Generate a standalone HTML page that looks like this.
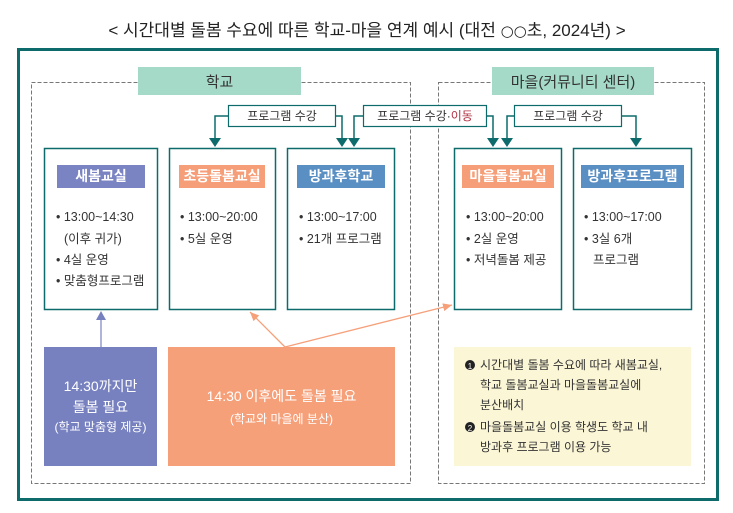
<!DOCTYPE html>
<html><head><meta charset="utf-8"><style>
html,body{margin:0;padding:0;background:#fff;width:733px;height:513px;overflow:hidden}
svg text{font-family:"Liberation Sans","Noto Sans CJK KR",sans-serif}
</style></head><body>
<svg width="733" height="513" viewBox="0 0 733 513" xmlns="http://www.w3.org/2000/svg">
<defs>
<marker id="po" markerWidth="10" markerHeight="10" refX="9" refY="4" orient="auto" markerUnits="userSpaceOnUse"><path d="M0,0 L9,4 L0,8 Z" fill="#f6a07a"/></marker>
</defs>
<text x="367" y="36" font-size="17" text-anchor="middle" fill="#222">&lt; 시간대별 돌봄 수요에 따른 학교-마을 연계 예시 (대전 <tspan font-family="DejaVu Sans" font-size="15">○○</tspan>초, 2024년) &gt;</text>
<rect x="18.5" y="49.5" width="699" height="450" fill="none" stroke="#0d6b6b" stroke-width="3"/>
<rect x="31.5" y="82.5" width="379" height="401" fill="none" stroke="#777" stroke-dasharray="4,2"/>
<rect x="438.5" y="82.5" width="266" height="401" fill="none" stroke="#777" stroke-dasharray="4,2"/>
<rect x="138" y="67" width="163" height="28" fill="#a6dac8"/>
<text x="219.5" y="87" font-size="15" text-anchor="middle" fill="#333">학교</text>
<rect x="492" y="67" width="162" height="28" fill="#a6dac8"/>
<text x="573" y="87" font-size="15" text-anchor="middle" fill="#333">마을(커뮤니티 센터)</text>
<g fill="#fff" stroke="#0d6b6b" stroke-width="1.5">
<rect x="44.5" y="148.5" width="113" height="161"/>
<rect x="169.5" y="148.5" width="106" height="161"/>
<rect x="287.5" y="148.5" width="107" height="161"/>
<rect x="454.5" y="148.5" width="107" height="161"/>
<rect x="573.5" y="148.5" width="118" height="161"/>
</g>
<g fill="none" stroke="#0d6b6b" stroke-width="1.5">
<polyline points="228,116 215,116 215,138"/>
<polyline points="335,116 342,116 342,138"/>
<polyline points="363,116 354,116 354,138"/>
<polyline points="487,116 493,116 493,138"/>
<polyline points="514,116 507,116 507,138"/>
<polyline points="621,116 636,116 636,138"/>
</g>
<g fill="#0d6b6b">
<path d="M209,138 L221,138 L215,147 Z"/>
<path d="M336,138 L348,138 L342,147 Z"/>
<path d="M348,138 L360,138 L354,147 Z"/>
<path d="M487,138 L499,138 L493,147 Z"/>
<path d="M501,138 L513,138 L507,147 Z"/>
<path d="M630,138 L642,138 L636,147 Z"/>
</g>
<g fill="#fff" stroke="#0d6b6b" stroke-width="1.2">
<rect x="228.5" y="105.5" width="107" height="21"/>
<rect x="363.5" y="105.5" width="123" height="21"/>
<rect x="514.5" y="105.5" width="107" height="21"/>
</g>
<g font-size="12" text-anchor="middle" fill="#333">
<text x="282" y="120">프로그램 수강</text>
<text x="425" y="120">프로그램 수강·<tspan fill="#b03040">이동</tspan></text>
<text x="568" y="120">프로그램 수강</text>
</g>
<rect x="57" y="165" width="88" height="23" fill="#7a84c2"/>
<rect x="179" y="165" width="86" height="23" fill="#f59e78"/>
<rect x="297" y="165" width="88" height="23" fill="#5a8fc4"/>
<rect x="462" y="165" width="92" height="23" fill="#f59e78"/>
<rect x="581" y="165" width="103" height="23" fill="#5a8fc4"/>
<g font-size="14" text-anchor="middle" fill="#fff" font-weight="bold">
<text x="101" y="181">새봄교실</text>
<text x="222" y="181">초등돌봄교실</text>
<text x="341" y="181">방과후학교</text>
<text x="508" y="181">마을돌봄교실</text>
<text x="632.5" y="181">방과후프로그램</text>
</g>
<g font-size="12.5" fill="#333">
<text x="56" y="221">• 13:00~14:30</text>
<text x="64" y="243">(이후 귀가)</text>
<text x="56" y="264">• 4실 운영</text>
<text x="56" y="285">• 맞춤형프로그램</text>
<text x="180" y="221">• 13:00~20:00</text>
<text x="180" y="243">• 5실 운영</text>
<text x="299" y="221">• 13:00~17:00</text>
<text x="299" y="243">• 21개 프로그램</text>
<text x="466" y="221">• 13:00~20:00</text>
<text x="466" y="243">• 2실 운영</text>
<text x="466" y="264">• 저녁돌봄 제공</text>
<text x="584" y="221">• 13:00~17:00</text>
<text x="584" y="243">• 3실 6개</text>
<text x="593" y="264">프로그램</text>
</g>
<rect x="44" y="347" width="113" height="119" fill="#7781c0"/>
<rect x="168" y="347" width="227" height="119" fill="#f6a07a"/>
<rect x="454" y="347" width="237" height="119" fill="#fbf6d6"/>
<line x1="101" y1="347" x2="101" y2="313" stroke="#7781c0" stroke-width="1.2"/>
<path d="M96,320 L106,320 L101,311 Z" fill="#7781c0"/>
<line x1="285" y1="347" x2="250" y2="312" stroke="#f6a07a" stroke-width="1.3" marker-end="url(#po)"/>
<line x1="285" y1="347" x2="452" y2="305" stroke="#f6a07a" stroke-width="1.3" marker-end="url(#po)"/>
<g fill="#fff" text-anchor="middle">
<text x="100.5" y="391" font-size="14">14:30까지만</text>
<text x="100.5" y="412" font-size="14">돌봄 필요</text>
<text x="100.5" y="431" font-size="12">(학교 맞춤형 제공)</text>
<text x="281.5" y="401" font-size="14">14:30 이후에도 돌봄 필요</text>
<text x="281.5" y="423" font-size="12">(학교와 마을에 분산)</text>
</g>
<g font-size="12" fill="#333">
<circle cx="470" cy="365" r="5" fill="#222"/><text x="470" y="369" font-size="8" fill="#fff" text-anchor="middle">1</text>
<text x="480" y="369">시간대별 돌봄 수요에 따라 새봄교실,</text>
<text x="480" y="389">학교 돌봄교실과 마을돌봄교실에</text>
<text x="480" y="409">분산배치</text>
<circle cx="470" cy="427" r="5" fill="#222"/><text x="470" y="431" font-size="8" fill="#fff" text-anchor="middle">2</text>
<text x="480" y="431">마을돌봄교실 이용 학생도 학교 내</text>
<text x="480" y="451">방과후 프로그램 이용 가능</text>
</g>
</svg>
</body></html>
